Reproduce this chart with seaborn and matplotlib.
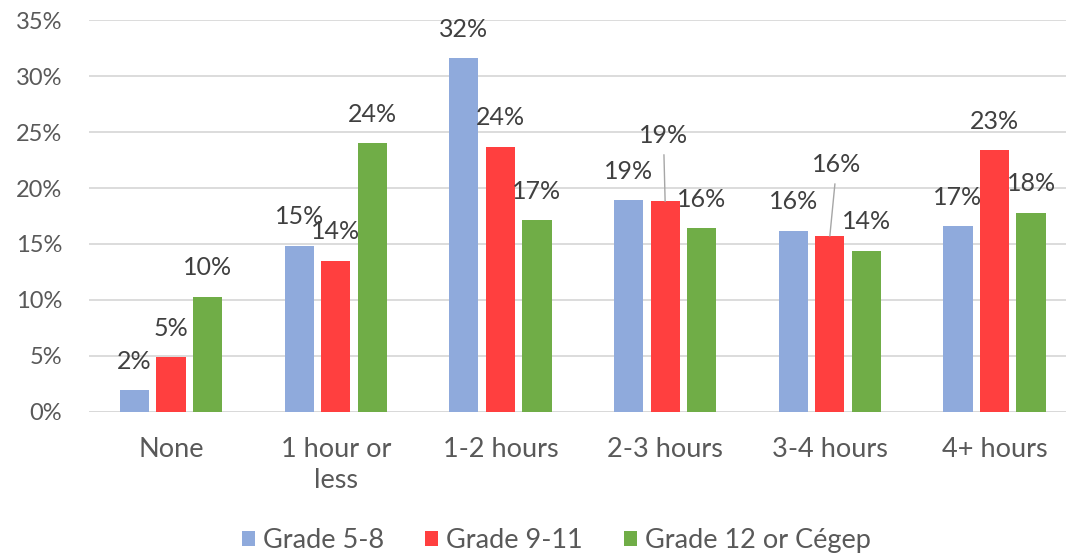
import matplotlib
matplotlib.use("Agg")
import matplotlib.pyplot as plt
import seaborn as sns
import pandas as pd

# Time spent per day, share of students by school level
categories = ["None", "1 hour or\nless", "1-2 hours", "2-3 hours", "3-4 hours", "4+ hours"]
grades = ["Grade 5-8", "Grade 9-11", "Grade 12 or Cégep"]
grade_5_8 = [1.9, 14.85, 31.6, 18.9, 16.2, 16.6]
grade_9_11 = [4.9, 13.5, 23.7, 18.8, 15.7, 23.4]
grade_12_cegep = [10.3, 24.0, 17.1, 16.4, 14.4, 17.8]
y_ticks = [0, 5, 10, 15, 20, 25, 30, 35]

colors = ["#8FAADC", "#FF3F3F", "#70AD47"]

rows = []
for grade, vals in zip(grades, [grade_5_8, grade_9_11, grade_12_cegep]):
    for cat, v in zip(categories, vals):
        rows.append({"category": cat, "grade": grade, "value": v})
df = pd.DataFrame(rows)

sns.set_theme(style="white")
plt.rcParams["font.family"] = ["Lato", "DejaVu Sans"]

fig = plt.figure(figsize=(10.66, 5.56), dpi=100)
ax = fig.add_axes([0.0832, 0.2595, 0.927, 0.704])

sns.barplot(data=df, x="category", y="value", hue="grade", order=categories,
            hue_order=grades, palette=colors, width=0.666, gap=0.2,
            linewidth=0, saturation=1, ax=ax, legend=True)

ax.set_ylim(0, 35)
ax.set_xlim(-0.5, len(categories) - 0.5)
ax.set_yticks(y_ticks)
ax.set_yticklabels([f"{t}%" for t in y_ticks])
ax.set_xlabel("")
ax.set_ylabel("")
ax.yaxis.grid(True, color="#D9D9D9", linewidth=1.3)
ax.set_axisbelow(True)
for s in ax.spines.values():
    s.set_visible(False)
ax.axhline(0, color="#D9D9D9", linewidth=1.3, zorder=0.5)
ax.tick_params(axis="both", length=0, labelcolor="#595959")
ax.tick_params(axis="y", pad=19, labelsize=17)
ax.tick_params(axis="x", pad=18, labelsize=19.5)
for lbl in ax.get_xticklabels():
    lbl.set_linespacing(1.3)

# Value labels above each bar; two labels are lifted with a leader line
lifted = {(1, 3): (-1.2, 47.3), (1, 4): (5.0, 51.3)}
for gi, container in enumerate(ax.containers):
    for ci, bar in enumerate(container.patches):
        v = bar.get_height()
        x = bar.get_x() + bar.get_width() / 2
        text = f"{v:.0f}%"
        if (gi, ci) in lifted:
            dx, dy = lifted[(gi, ci)]
            ax.annotate(text, xy=(x, v), xytext=(dx, dy), textcoords="offset points",
                        ha="center", va="center", fontsize=18, color="#404040",
                        arrowprops=dict(arrowstyle="-", color="#A6A6A6", lw=1.0,
                                        shrinkA=3, shrinkB=0))
        else:
            ax.annotate(text, xy=(x, v), xytext=(0, 20.8), textcoords="offset points",
                        ha="center", va="center", fontsize=18, color="#404040")

handles, labels = ax.get_legend_handles_labels()
ax.get_legend().remove()
fig.legend(handles, labels, loc="center", bbox_to_anchor=(0.522, 0.027), ncol=3,
           frameon=False, fontsize=19.5, handlelength=0.48, handleheight=0.48,
           handletextpad=0.3, columnspacing=1.5, labelcolor="#595959")

fig.savefig("out.png", dpi=100)
